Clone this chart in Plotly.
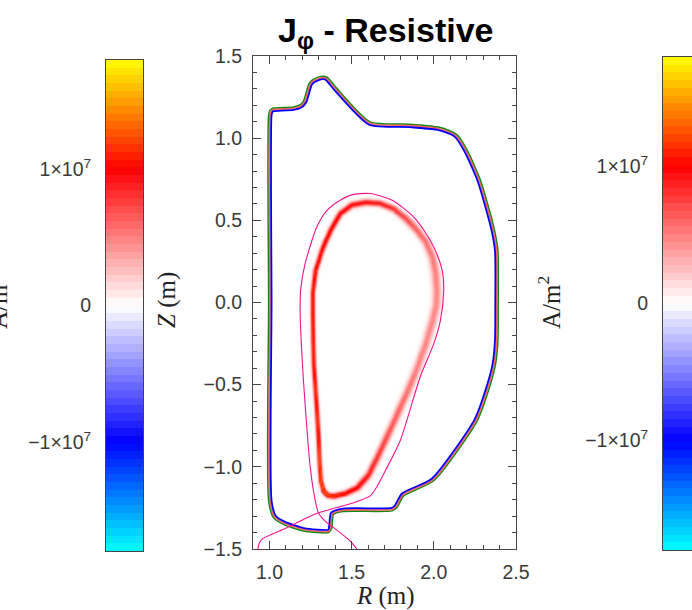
import numpy as np
import plotly.graph_objects as go

W, H = 692, 610

# ---------------- colour scale for J_phi (A/m^2) ----------------
J_MIN, J_MAX = -1.8e7, 1.8e7
N_LEVELS = 64
COLORSCALE = [
    [0.0, "rgb(0,255,255)"],
    [0.2222, "rgb(0,0,255)"],
    [0.5, "rgb(255,255,255)"],
    [0.7778, "rgb(255,0,0)"],
    [1.0, "rgb(255,255,0)"],
]
CBAR_TICKS = [-1e7, 0, 1e7]
CBAR_TICKTEXT = ["\u22121\u00d710<sup>7</sup>", "0", "1\u00d710<sup>7</sup>"]

# ---------------- vessel wall outline (R, Z in m) ----------------
WALL_R = [0.995, 0.995, 1.005, 1.024, 1.146, 1.19, 1.207, 1.24, 1.258, 1.309,
          1.349, 1.41, 1.613, 1.857, 2.02, 2.101, 2.142, 2.203, 2.284, 2.365,
          2.39, 2.392, 2.39, 2.376, 2.345, 2.264, 2.0, 1.817, 1.776, 1.746,
          1.45, 1.39, 1.38, 1.36, 1.207, 1.085, 1.024, 0.995]
WALL_Z = [0.0, 1.14, 1.172, 1.183, 1.19, 1.205, 1.225, 1.33, 1.352, 1.376,
          1.372, 1.303, 1.099, 1.085, 1.069, 1.044, 1.02, 0.927, 0.744, 0.459,
          0.317, 0.012, -0.232, -0.374, -0.496, -0.72, -1.085, -1.177, -1.248, -1.268,
          -1.272, -1.289, -1.37, -1.40, -1.39, -1.35, -1.309, -1.207]

# ---------------- separatrix (R, Z in m) ----------------
SEP_R = [0.930, 0.936, 0.955, 1.085, 1.207, 1.298, 1.41, 1.512, 1.613, 1.66,
         1.705, 1.796, 1.918, 2.00, 2.04, 2.06, 2.05, 2.0, 1.94, 1.878,
         1.75, 1.613, 1.50, 1.43, 1.35, 1.288, 1.217, 1.19, 1.187, 1.207,
         1.237, 1.248, 1.268, 1.298, 1.349, 1.39, 1.49, 1.532]
SEP_Z = [-1.50, -1.47, -1.44, -1.38, -1.32, -1.279, -1.248, -1.218, -1.177, -1.11,
         -1.024, -0.84, -0.45, -0.25, -0.11, 0.07, 0.2, 0.337, 0.44, 0.52,
         0.62, 0.663, 0.655, 0.622, 0.56, 0.459, 0.236, 0.08, -0.069, -0.476,
         -0.882, -1.0, -1.146, -1.279, -1.34, -1.37, -1.45, -1.50]

# ---------------- edge current ring: centreline, peak J and half-width ----------------
BAND_R = [1.583, 1.50, 1.43, 1.37, 1.318, 1.278, 1.262, 1.262, 1.264, 1.268,
          1.278, 1.288, 1.297, 1.304, 1.312, 1.329, 1.355, 1.39, 1.46, 1.532,
          1.60, 1.654, 1.715, 1.776, 1.84, 1.898, 1.95, 1.99, 2.012, 2.016,
          2.008, 1.99, 1.95, 1.898, 1.83, 1.756, 1.67]
BAND_Z = [0.611, 0.595, 0.545, 0.44, 0.32, 0.195, 0.06, -0.069, -0.22, -0.374,
          -0.53, -0.679, -0.83, -0.984, -1.09, -1.146, -1.172, -1.177, -1.16, -1.126,
          -1.05, -0.943, -0.81, -0.679, -0.535, -0.394, -0.25, -0.11, -0.02, 0.073,
          0.18, 0.276, 0.37, 0.439, 0.51, 0.571, 0.605]
BAND_J = [0.95e7, 0.95e7, 1.0e7, 1.05e7, 1.05e7, 1.1e7, 1.1e7, 1.1e7, 1.1e7, 1.12e7,
          1.15e7, 1.18e7, 1.22e7, 1.28e7, 1.32e7, 1.32e7, 1.28e7, 1.2e7, 1.1e7, 1.0e7,
          0.9e7, 0.8e7, 0.7e7, 0.62e7, 0.55e7, 0.5e7, 0.48e7, 0.47e7, 0.47e7, 0.48e7,
          0.5e7, 0.52e7, 0.56e7, 0.62e7, 0.7e7, 0.8e7, 0.9e7]
BAND_W = [0.013, 0.013, 0.012, 0.011, 0.011, 0.010, 0.009, 0.009, 0.009, 0.009,
          0.009, 0.009, 0.009, 0.009, 0.009, 0.010, 0.011, 0.012, 0.012, 0.013,
          0.014, 0.014, 0.015, 0.016, 0.016, 0.017, 0.017, 0.018, 0.018, 0.018,
          0.018, 0.017, 0.016, 0.016, 0.015, 0.014, 0.013]


def jphi_field(r_grid, z_grid):
    """J_phi on a grid: Gaussian cross-section around the current ring centreline."""
    RR, ZZ = np.meshgrid(r_grid, z_grid)
    field = np.zeros_like(RR)
    br, bz = np.array(BAND_R), np.array(BAND_Z)
    bj, bw = np.array(BAND_J), np.array(BAND_W)
    n = len(br)
    for i in range(n):
        k = (i + 1) % n
        ar, az = br[i], bz[i]
        dr, dz = br[k] - ar, bz[k] - az
        t = ((RR - ar) * dr + (ZZ - az) * dz) / (dr * dr + dz * dz)
        t = np.clip(t, 0.0, 1.0)
        d2 = (RR - ar - t * dr) ** 2 + (ZZ - az - t * dz) ** 2
        amp = bj[i] + t * (bj[k] - bj[i])
        sig = bw[i] + t * (bw[k] - bw[i])
        field = np.maximum(field, amp * np.exp(-d2 / (2 * sig * sig)))
    field[field < 2e4] = 0.0
    return field.astype(np.float32)


def shift_inward(r, z, d):
    """Closed outline moved by distance d along its inward normal."""
    r, z = np.asarray(r, float), np.asarray(z, float)
    tr = np.roll(r, -1) - np.roll(r, 1)
    tz = np.roll(z, -1) - np.roll(z, 1)
    n = np.hypot(tr, tz)
    area = 0.5 * np.sum(r * np.roll(z, -1) - np.roll(r, -1) * z)
    sgn = -1.0 if area > 0 else 1.0
    nr, nz = sgn * tz / n, -sgn * tr / n
    rr, zz = r + d * nr, z + d * nz
    return np.append(rr, rr[0]), np.append(zz, zz[0])


r_grid = np.arange(1.10, 2.15, 0.004)
z_grid = np.arange(-1.30, 0.75, 0.004)
jphi = jphi_field(r_grid, z_grid)

fig = go.Figure()

fig.add_trace(go.Heatmap(
    x=r_grid, y=z_grid, z=jphi, coloraxis="coloraxis", zsmooth="best",
    hoverinfo="skip", xaxis="x", yaxis="y"))

# vessel wall: green outer surface, red and blue layers just inside it
for d, col, w in [(0.0, "rgb(20,140,20)", 1.5),
                  (0.009, "rgba(255,40,40,0.7)", 1.8),
                  (0.018, "rgb(0,0,255)", 1.8)]:
    wr, wz = shift_inward(WALL_R, WALL_Z, d)
    fig.add_trace(go.Scatter(
        x=wr, y=wz, mode="lines", line=dict(color=col, width=w, shape="spline", smoothing=0.6),
        hoverinfo="skip", showlegend=False, xaxis="x", yaxis="y"))

fig.add_trace(go.Scatter(
    x=SEP_R, y=SEP_Z, mode="lines",
    line=dict(color="rgb(240,20,140)", width=1.1, shape="spline", smoothing=0.7),
    hoverinfo="skip", showlegend=False, xaxis="x", yaxis="y"))

# colour bars drawn as stacked bands of J levels
step = (J_MAX - J_MIN) / N_LEVELS
levels = J_MIN + step * (np.arange(N_LEVELS) + 0.5)
for xa, ya in [("x2", "y2"), ("x3", "y3")]:
    fig.add_trace(go.Heatmap(
        x0=0.5, dx=1.0, y0=levels[0], dy=step, z=levels.reshape(-1, 1),
        coloraxis="coloraxis", hoverinfo="skip", xaxis=xa, yaxis=ya))

tick_font = dict(family="Liberation Sans, Arial, sans-serif", size=19.5, color="#3a3a3a")
frame = dict(showline=True, linecolor="#444", linewidth=1, showgrid=False,
             zeroline=False, automargin=False)

fig.update_layout(
    width=W, height=H,
    margin=dict(l=0, r=0, t=0, b=0, autoexpand=False),
    paper_bgcolor="white", plot_bgcolor="white",
    showlegend=False,
    coloraxis=dict(colorscale=COLORSCALE, cmin=J_MIN, cmax=J_MAX, showscale=False),
    xaxis=dict(domain=[253 / W, 516 / W], range=[0.9, 2.5], anchor="y",
               tick0=1.0, dtick=0.5, tickformat=".1f", ticks="inside", ticklen=8,
               tickcolor="#444", mirror="allticks", tickfont=tick_font,
               ticklabelstandoff=6,
               minor=dict(dtick=0.1, tick0=1.0, ticks="inside", ticklen=4, tickcolor="#444"),
               **frame),
    yaxis=dict(domain=[1 - 549 / H, 1 - 56 / H], range=[-1.5, 1.5], anchor="x",
               tick0=0, dtick=0.5, tickformat=".1f", ticks="inside", ticklen=8,
               tickcolor="#444", mirror="allticks", tickfont=tick_font,
               ticklabelstandoff=6,
               minor=dict(dtick=0.1, tick0=0, ticks="inside", ticklen=4, tickcolor="#444"),
               **frame),
    xaxis2=dict(domain=[106 / W, 143 / W], range=[0, 1], anchor="y2",
                showticklabels=False, ticks="", mirror=True, **frame),
    yaxis2=dict(domain=[1 - 551 / H, 1 - 60 / H], range=[J_MIN, J_MAX], anchor="x2",
                tickvals=CBAR_TICKS, ticktext=CBAR_TICKTEXT, ticks="", mirror=True,
                tickfont=tick_font, ticklabelstandoff=10, **frame),
    xaxis3=dict(domain=[663 / W, 1.0], range=[0, 1], anchor="y3",
                showticklabels=False, ticks="", mirror=True, **frame),
    yaxis3=dict(domain=[1 - 550 / H, 1 - 57 / H], range=[J_MIN, J_MAX], anchor="x3",
                tickvals=CBAR_TICKS, ticktext=CBAR_TICKTEXT, ticks="", mirror=False,
                tickfont=tick_font, ticklabelstandoff=10, **frame),
)

serif = dict(family="Liberation Serif, Times New Roman, serif", size=25, color="#222")
fig.add_annotation(x=385 / W, y=1 - 32 / H, xref="paper", yref="paper",
                   text="<b>J<sub>\u03c6</sub> - Resistive</b>", showarrow=False,
                   font=dict(family="Liberation Sans Narrow, Liberation Sans, Arial, sans-serif",
                             size=34, color="black"),
                   xanchor="center", yanchor="middle")
fig.add_annotation(x=385 / W, y=1 - 596 / H, xref="paper", yref="paper",
                   text="<i>R</i> (m)", showarrow=False, font=serif,
                   xanchor="center", yanchor="middle")
fig.add_annotation(x=167 / W, y=1 - 300 / H, xref="paper", yref="paper",
                   text="<i>Z</i> (m)", showarrow=False, font=serif, textangle=-90,
                   xanchor="center", yanchor="middle")
for xp in (549, -4):
    fig.add_annotation(x=xp / W, y=1 - 303 / H, xref="paper", yref="paper",
                       text="A/m<sup>2</sup>", showarrow=False, font=serif, textangle=-90,
                       xanchor="center", yanchor="middle")

fig.write_html("out.html", include_plotlyjs=True, config=dict(displayModeBar=False))
